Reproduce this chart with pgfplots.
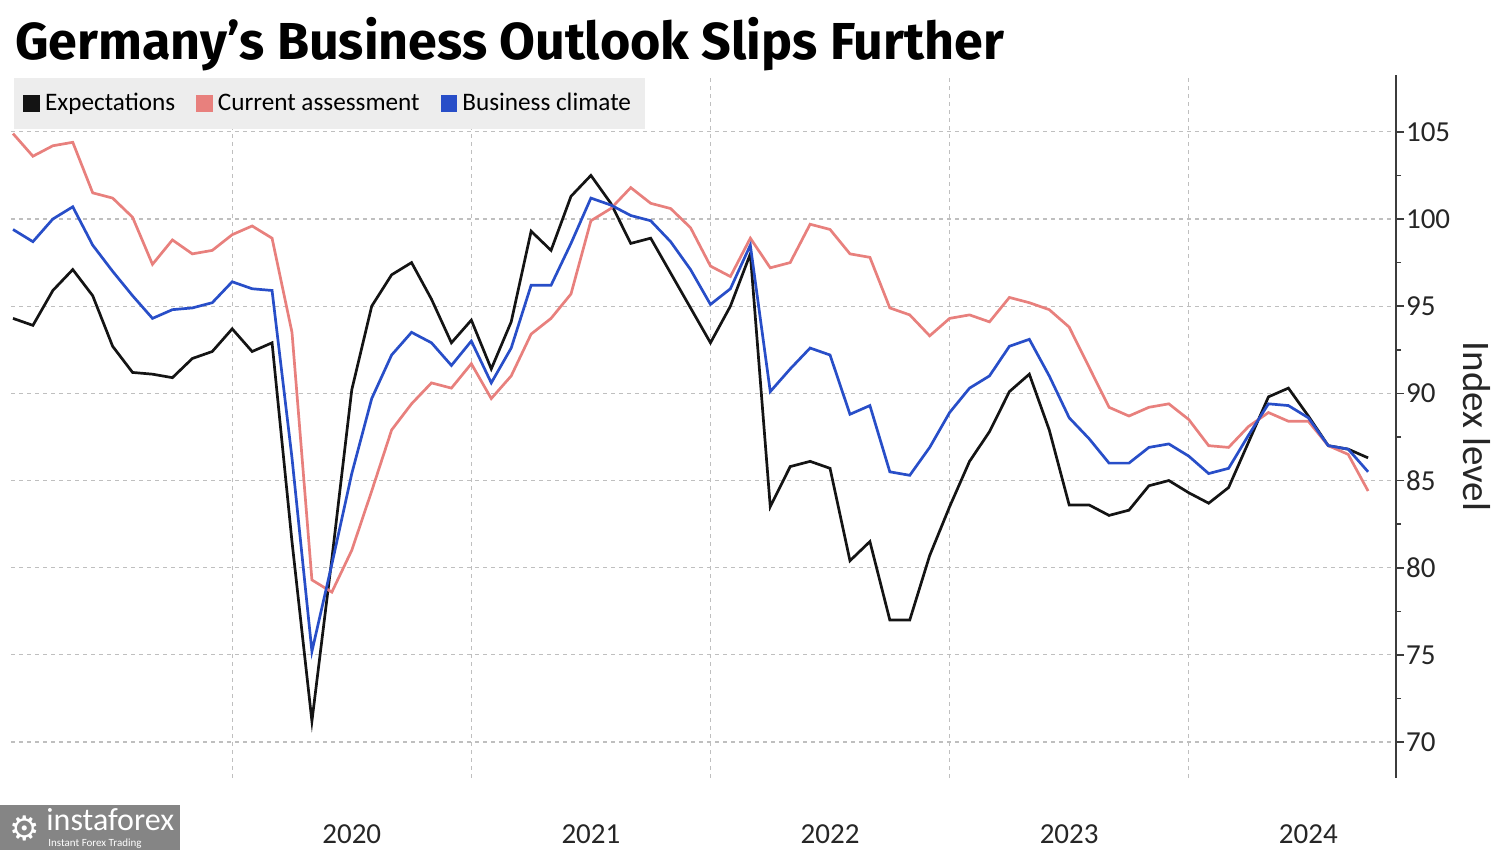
\documentclass[border=0pt]{standalone}
\usepackage{pgfplots}
\pgfplotsset{compat=1.18}
\usepackage{pgfplotstable}
\usepackage{fontspec}
\setmainfont{Carlito}
\newfontfamily\titlefont{Fira Sans}
\newfontfamily\symfont{DejaVu Sans}
\definecolor{expblack}{RGB}{20,20,20}
\definecolor{curpink}{RGB}{232,128,125}
\definecolor{climblue}{RGB}{40,78,200}
\definecolor{axgray}{RGB}{60,60,60}

\pgfplotstableread{
idx exp cur clim
0 94.3 104.9 99.4
1 93.9 103.6 98.7
2 95.9 104.2 100.0
3 97.1 104.4 100.7
4 95.6 101.5 98.5
5 92.7 101.2 97.0
6 91.2 100.1 95.6
7 91.1 97.4 94.3
8 90.9 98.8 94.8
9 92.0 98.0 94.9
10 92.4 98.2 95.2
11 93.7 99.1 96.4
12 92.4 99.6 96.0
13 92.9 98.9 95.9
14 81.5 93.5 86.3
15 71.2 79.3 75.2
16 80.5 78.6 80.2
17 90.2 81.0 85.4
18 95.0 84.4 89.7
19 96.8 87.9 92.2
20 97.5 89.4 93.5
21 95.4 90.6 92.9
22 92.9 90.3 91.6
23 94.2 91.7 93.0
24 91.4 89.7 90.6
25 94.1 91.0 92.6
26 99.3 93.4 96.2
27 98.2 94.3 96.2
28 101.3 95.7 98.6
29 102.5 99.9 101.2
30 100.9 100.6 100.8
31 98.6 101.8 100.2
32 98.9 100.9 99.9
33 96.9 100.6 98.7
34 94.9 99.5 97.1
35 92.9 97.3 95.1
36 95.0 96.7 96.0
37 98.0 98.9 98.5
38 83.5 97.2 90.1
39 85.8 97.5 91.4
40 86.1 99.7 92.6
41 85.7 99.4 92.2
42 80.4 98.0 88.8
43 81.5 97.8 89.3
44 77.0 94.9 85.5
45 77.0 94.5 85.3
46 80.7 93.3 86.9
47 83.5 94.3 88.9
48 86.1 94.5 90.3
49 87.8 94.1 91.0
50 90.1 95.5 92.7
51 91.1 95.2 93.1
52 87.9 94.8 91.0
53 83.6 93.8 88.6
54 83.6 91.5 87.4
55 83.0 89.2 86.0
56 83.3 88.7 86.0
57 84.7 89.2 86.9
58 85.0 89.4 87.1
59 84.3 88.5 86.4
60 83.7 87.0 85.4
61 84.6 86.9 85.7
62 87.2 88.1 87.6
63 89.8 88.9 89.4
64 90.3 88.4 89.3
65 88.7 88.4 88.6
66 87.0 87.0 87.0
67 86.8 86.5 86.8
68 86.3 84.4 85.5
}\ifodata

\begin{document}
\begin{tikzpicture}
\path[use as bounding box] (0,0) rectangle (750pt,425pt);
\node[anchor=base west, inner sep=0pt, font=\titlefont\bfseries\fontsize{26}{29}\selectfont] at (7.5pt,395pt) {Germany’s Business Outlook Slips Further};
\begin{axis}[
  at={(5.5pt,36pt)}, anchor=south west,
  scale only axis, width=692.5pt, height=351.5pt,
  xmin=-0.1, xmax=69.4, ymin=67.94, ymax=108.26,
  axis y line*=right, axis x line*=bottom,
  x axis line style={draw=none},
  y axis line style={draw=axgray, line width=1pt},
  /pgf/number format/assume math mode=true,
  xtick={17,29,41,53,65},
  xticklabels={2020,2021,2022,2023,2024},
  x tick style={draw=none},
  xticklabel style={anchor=base, yshift=-29pt, font=\fontsize{14.5}{16}\selectfont, text=black!85},
  extra x ticks={11,23,35,47,59},
  extra x tick labels={},
  extra x tick style={grid=major, tick style={draw=none}},
  ytick={70,75,...,105},
  minor y tick num=1,
  ymajorgrids,
  grid style={black!25, dash pattern=on 2pt off 2pt, line width=0.6pt},
  tick align=outside,
  y tick style={draw=axgray, line width=0.8pt},
  major tick length=4pt, minor tick length=2.5pt,
  yticklabel style={font=\fontsize{14.5}{16}\selectfont, text=black!85, xshift=-2.5pt},
  ylabel={Index level},
  every axis y label/.style={at={(rel axis cs:1,0.5)}, xshift=40.5pt, rotate=-90, anchor=center, font=\fontsize{19.5}{22}\selectfont, text=black!85},
  legend columns=3,
  legend style={at={(rel axis cs:0.0022,0.9957)}, anchor=north west, fill=black!7, draw=none,
    font=\fontsize{12.6}{14}\selectfont, inner xsep=4.5pt, inner ysep=5.5pt,
    nodes={inner xsep=2.5pt},
    /tikz/every even column/.append style={column sep=8pt}},
  legend image code/.code={\fill[#1] (0pt,-3.6pt) rectangle (7pt,3.6pt);},
]
\addplot[color=expblack, line width=1.35pt] table[x=idx, y=exp] {\ifodata};
\addlegendentry{Expectations}
\addplot[color=curpink, line width=1.35pt] table[x=idx, y=cur] {\ifodata};
\addlegendentry{Current assessment}
\addplot[color=climblue, line width=1.35pt] table[x=idx, y=clim] {\ifodata};
\addlegendentry{Business climate}
\end{axis}
% watermark
\fill[black!48] (0,0) rectangle (90pt,22.5pt);
\node[text=white, font=\symfont\fontsize{17}{17}\selectfont, inner sep=0pt] at (12.5pt,11pt) {⚙};
\node[text=white, font=\fontsize{16}{16}\selectfont, inner sep=0pt, anchor=base west] at (23pt,9.8pt) {instaforex};
\node[text=white, font=\fontsize{5.5}{6}\selectfont, inner sep=0pt, anchor=base west] at (24pt,1.6pt) {Instant Forex Trading};
\end{tikzpicture}
\end{document}
